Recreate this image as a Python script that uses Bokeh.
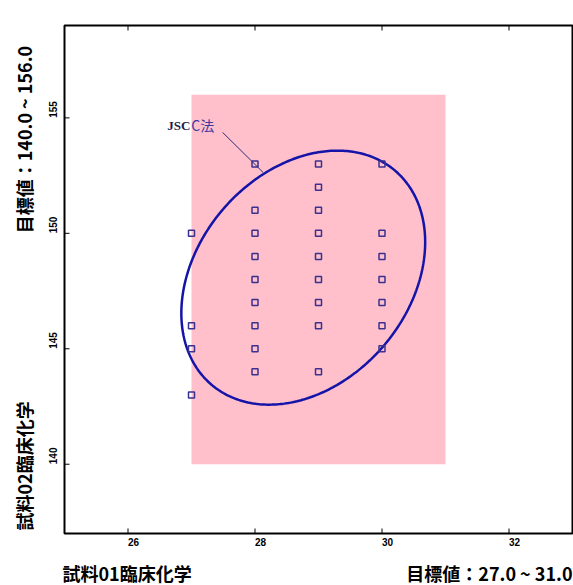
import numpy as np
from bokeh.plotting import figure
from bokeh.models import Range1d
from bokeh.core.properties import value
from bokeh.embed import file_html
from bokeh.resources import INLINE

# Sample 01 (x) and sample 02 (y) results, grouped by x column
x_col27 = [150, 146, 145, 143]
x_col28 = [153, 151, 150, 149, 148, 147, 146, 145, 144]
x_col29 = [153, 152, 151, 150, 149, 148, 147, 146, 144]
x_col30 = [153, 150, 149, 148, 147, 146, 145]
columns = {27: x_col27, 28: x_col28, 29: x_col29, 30: x_col30}

# Target ranges (shaded box)
target_x = [27.0, 31.0]
target_y = [140.0, 156.0]

# JSCC ellipse: centre, half extents along x / y, and correlation term
ell_cx, ell_cy = 28.76, 148.08
ell_ax, ell_by, ell_r = 1.92, 5.50, 0.28

x_ticks = [26, 28, 30, 32]
y_ticks = [140, 145, 150, 155]
box_x = (25, 33)
box_y = (137, 159)

xlabel_left = "試料01臨床化学"
xlabel_right = "目標値：27.0 ~ 31.0"
ylabel_top = "目標値：140.0 ~ 156.0"
ylabel_bottom = "試料02臨床化学"

xs, ys = [], []
for xv, vals in columns.items():
    xs += [xv] * len(vals)
    ys += vals

# canvas and margins (px) around the plotting box
W, H = 573, 585
m_left, m_right, m_top, m_bottom = 64, 1, 25, 52
sx = (W - m_left - m_right) / (box_x[1] - box_x[0])   # px per x unit
sy = (H - m_top - m_bottom) / (box_y[1] - box_y[0])   # px per y unit


def dx(px):
    return px / sx


def dy(px):
    return px / sy


p = figure(width=W, height=H, output_backend="svg", toolbar_location=None,
           x_range=Range1d(box_x[0] - dx(m_left), box_x[1] + dx(m_right)),
           y_range=Range1d(box_y[0] - dy(m_bottom), box_y[1] + dy(m_top)),
           x_axis_type=None, y_axis_type=None, min_border=0)
p.outline_line_color = None
p.background_fill_color = "white"
p.border_fill_color = "white"
p.xgrid.visible = False
p.ygrid.visible = False

FONT = "Noto Sans CJK JP"
TICK_FONT = "Liberation Sans"

# target box
p.quad(left=[target_x[0]], right=[target_x[1]], bottom=[target_y[0]],
       top=[target_y[1]], fill_color="#ffc0cb", line_color=None)

# JSCC ellipse
t = np.linspace(0, 2 * np.pi, 361)
ex = ell_cx + ell_ax * np.cos(t)
ey = ell_cy + ell_by * (ell_r * np.cos(t) + np.sqrt(1 - ell_r ** 2) * np.sin(t))
p.line(ex, ey, line_color="#1414a8", line_width=2.5)

# data points
p.scatter(xs, ys, marker="square", size=6, fill_color=None,
          line_color="#3a3090", line_width=1.5)

# annotation for the ellipse
p.line([27.49, 28.13], [154.37, 152.63], line_color="#2a2a78", line_width=1)
p.text(x=[26.62], y=[154.67], text=["JSC"], text_font=value("Liberation Serif"),
       text_font_size="13px", text_font_style="bold", text_color="#1c1c4c",
       text_baseline="middle", text_align="left")
p.text(x=[26.62 + dx(24)], y=[154.67], text=["C法"], text_font=value(FONT),
       text_font_size="14px", text_color="#3a3aa0",
       text_baseline="middle", text_align="left")

# plotting box outline and inward ticks
p.quad(left=[box_x[0]], right=[box_x[1]], bottom=[box_y[0]], top=[box_y[1]],
       fill_color=None, line_color="black", line_width=2)
tick_len = 5
p.segment(x0=x_ticks, x1=x_ticks, y0=[box_y[0]] * 4,
          y1=[box_y[0] + dy(tick_len)] * 4, line_color="black", line_width=1)
p.segment(x0=x_ticks, x1=x_ticks, y0=[box_y[1]] * 4,
          y1=[box_y[1] - dy(tick_len)] * 4, line_color="black", line_width=1)
p.segment(x0=[box_x[0]] * 4, x1=[box_x[0] + dx(tick_len)] * 4, y0=y_ticks,
          y1=y_ticks, line_color="black", line_width=1)

# tick labels
p.text(x=x_ticks, y=[box_y[0] - dy(4)] * len(x_ticks),
       text=[str(v) for v in x_ticks], text_font=value(TICK_FONT),
       text_font_size="10px", text_font_style="bold", text_color="black",
       text_align="left", text_baseline="top")
p.text(x=[box_x[0] - dx(12)] * len(y_ticks), y=y_ticks,
       text=[str(v) for v in y_ticks], angle=np.pi / 2,
       text_font=value(TICK_FONT), text_font_size="10px",
       text_font_style="bold", text_color="black",
       text_align="left", text_baseline="middle")

# axis titles
title_style = dict(text_font=value(FONT), text_font_size="18px",
                   text_font_style="bold", text_color="black",
                   text_baseline="middle")
p.text(x=[box_x[0] - dx(41)], y=[150], text=[ylabel_top], angle=np.pi / 2,
       text_align="left", **title_style)
p.text(x=[box_x[0] - dx(41)], y=[box_y[0] + dy(3)], text=[ylabel_bottom],
       angle=np.pi / 2, text_align="left", **title_style)
p.text(x=[box_x[0] - dx(2)], y=[box_y[0] - dy(39)], text=[xlabel_left],
       text_align="left", **title_style)
p.text(x=[box_x[1]], y=[box_y[0] - dy(39)], text=[xlabel_right],
       text_align="right", **title_style)

open("out.html", "w").write(file_html(p, INLINE))
